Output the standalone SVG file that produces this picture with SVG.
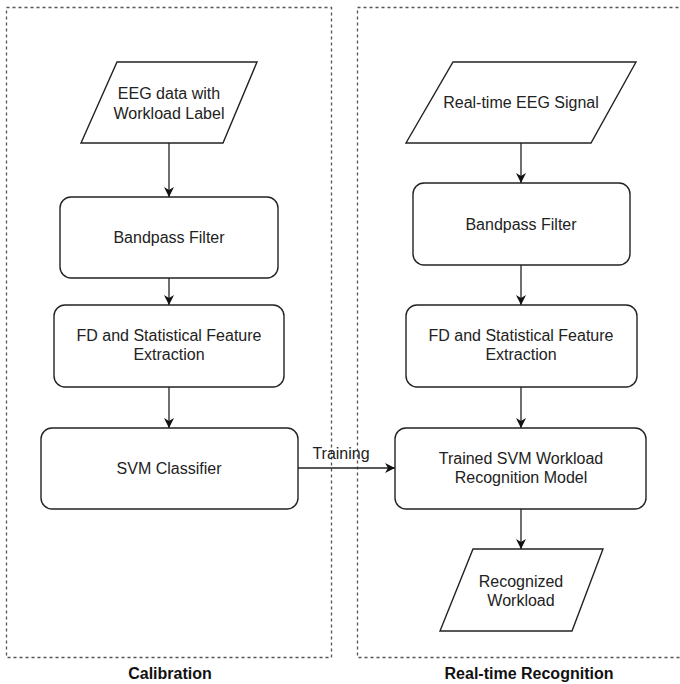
<svg xmlns="http://www.w3.org/2000/svg" width="680" height="684" viewBox="0 0 680 684">
<defs>
<style>
.container{fill:none;stroke:#555;stroke-width:1.3;stroke-dasharray:3 3}
.shape{fill:#fff;stroke:#222;stroke-width:1.4}
.lbl{font-family:"Liberation Sans",Arial,sans-serif;font-size:16px;fill:#222;text-anchor:middle}
.title{font-family:"Liberation Sans",Arial,sans-serif;font-size:16px;font-weight:bold;fill:#111;text-anchor:middle}
.edge{fill:none;stroke:#222;stroke-width:1.3}
</style>
<marker id="arr" viewBox="0 0 10 10" refX="10" refY="5" markerWidth="10" markerHeight="10" markerUnits="userSpaceOnUse" orient="auto">
<path d="M0,0 L10,5 L0,10 L3,5 Z" fill="#111"/>
</marker>
</defs>
<rect width="680" height="684" fill="#fff"/>
<g id="calibration-container">
<rect class="container" x="6.5" y="7.5" width="325" height="650"/>
<text class="title" x="170" y="679">Calibration</text>
</g>
<g id="recognition-container">
<rect class="container" x="357.5" y="7.5" width="340" height="650"/>
<text class="title" x="529" y="679">Real-time Recognition</text>
</g>
<g id="eeg-data">
<polygon class="shape" points="117,62 257,62 223,143 81,143"/>
<text class="lbl" x="169" y="99">EEG data with</text>
<text class="lbl" x="169" y="119">Workload Label</text>
</g>
<g id="bandpass-left">
<rect class="shape" x="60" y="197" width="218" height="81" rx="11"/>
<text class="lbl" x="169" y="243">Bandpass Filter</text>
</g>
<g id="fd-left">
<rect class="shape" x="54" y="305" width="230" height="82" rx="11"/>
<text class="lbl" x="169" y="341">FD and Statistical Feature</text>
<text class="lbl" x="169" y="360">Extraction</text>
</g>
<g id="svm-classifier">
<rect class="shape" x="41" y="428" width="257" height="81" rx="11"/>
<text class="lbl" x="169" y="474">SVM Classifier</text>
</g>
<g id="realtime-eeg">
<polygon class="shape" points="453,62 636,62 591,143 406,143"/>
<text class="lbl" x="521" y="108">Real-time EEG Signal</text>
</g>
<g id="bandpass-right">
<rect class="shape" x="413" y="183" width="217" height="82" rx="11"/>
<text class="lbl" x="521" y="230">Bandpass Filter</text>
</g>
<g id="fd-right">
<rect class="shape" x="406" y="305" width="231" height="82" rx="11"/>
<text class="lbl" x="521" y="341">FD and Statistical Feature</text>
<text class="lbl" x="521" y="360">Extraction</text>
</g>
<g id="trained-svm">
<rect class="shape" x="395" y="428" width="251" height="81" rx="11"/>
<text class="lbl" x="521" y="464">Trained SVM Workload</text>
<text class="lbl" x="521" y="483">Recognition Model</text>
</g>
<g id="recognized-workload">
<polygon class="shape" points="473,549 603,549 572,631 440,631"/>
<text class="lbl" x="521" y="587">Recognized</text>
<text class="lbl" x="521" y="606">Workload</text>
</g>
<g id="connectors">
<line class="edge" x1="169" y1="143" x2="169" y2="197" marker-end="url(#arr)"/>
<line class="edge" x1="169" y1="278" x2="169" y2="305" marker-end="url(#arr)"/>
<line class="edge" x1="169" y1="387" x2="169" y2="428" marker-end="url(#arr)"/>
<line class="edge" x1="521" y1="143" x2="521" y2="183" marker-end="url(#arr)"/>
<line class="edge" x1="521" y1="265" x2="521" y2="305" marker-end="url(#arr)"/>
<line class="edge" x1="521" y1="387" x2="521" y2="428" marker-end="url(#arr)"/>
<line class="edge" x1="521" y1="509" x2="521" y2="549" marker-end="url(#arr)"/>
<line class="edge" x1="298" y1="468" x2="395" y2="468" marker-end="url(#arr)"/>
<text class="lbl" x="341" y="459">Training</text>
</g>
</svg>
